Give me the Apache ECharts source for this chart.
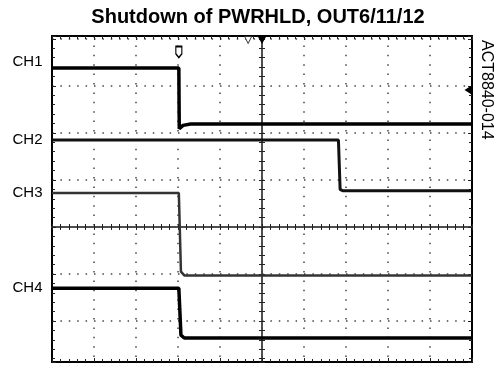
<!DOCTYPE html>
<html>
<head>
<meta charset="utf-8">
<title>Shutdown of PWRHLD, OUT6/11/12</title>
<script src="https://cdn.jsdelivr.net/npm/echarts@6/dist/echarts.min.js"></script>
<style>
html,body{margin:0;padding:0;background:#fff;}
#chart{width:502px;height:365px;}
</style>
</head>
<body>
<div id="chart"></div>
<script>
// scope screen in divisions: time -5..5, level 0 = centre graticule line
var xMin = -5, xMax = 5;
var yMin = -2.87, yMax = 4.06;

// channel traces (time in div, level in div)
var ch1Time = [-5, -1.98, -1.97, -1.88, -1.7, 5];
var ch1Level = [3.38, 3.38, 2.09, 2.16, 2.19, 2.19];
var ch2Time = [-5, 1.82, 1.86, 1.92, 5];
var ch2Level = [1.85, 1.85, 0.80, 0.77, 0.77];
var ch3Time = [-5, -1.98, -1.93, -1.85, 5];
var ch3Level = [0.72, 0.72, -0.95, -1.03, -1.03];
var ch4Time = [-5, -1.98, -1.93, -1.85, 5];
var ch4Level = [-1.30, -1.30, -2.30, -2.36, -2.36];

var fontName = '"Liberation Sans", Arial, sans-serif';
var tickStyle = {color: '#222', width: 1};

// one axis: frame edge or centre line (onZero)
function makeAxis(dim, position, onZero, zeroIndex, showSplit){
	var isX = dim === 'x';
	var axis = {
		type: 'value',
		position: position,
		min: isX ? xMin : yMin,
		max: isX ? xMax : yMax,
		axisLine: {
			show: true,
			onZero: onZero,
			lineStyle: {color: onZero ? '#444' : '#000', width: onZero ? 1.5 : 2}
		},
		axisTick: {show: true, inside: true, length: onZero ? 3 : 4, lineStyle: tickStyle},
		minorTick: {show: true, splitNumber: 5, length: 3, lineStyle: tickStyle},
		axisLabel: {show: false},
		splitLine: {
			show: showSplit,
			lineStyle: {color: '#444', width: 1.5, type: isX ? [1.5, 7.9] : [1.5, 6.9]}
		}
	};
	if(isX){
		axis.interval = 1;
	}else{
		axis.splitNumber = 7;
	}
	if(onZero){
		axis.axisLine.onZeroAxisIndex = zeroIndex;
	}
	return axis;
}

function buildSeries(name, times, levels, width, color, labelDy, marks){
	var data = times.map(function(t, i){
		return [t, levels[i]];
	});
	// channel name written left of the frame at the trace level
	var points = [{
		coord: [xMin, levels[0]],
		symbol: 'circle',
		symbolSize: 1,
		itemStyle: {color: 'rgba(0,0,0,0)'},
		label: {
			show: true, position: 'left', distance: 9, formatter: name,
			color: '#000', fontSize: 15, fontFamily: fontName, offset: [0, labelDy]
		}
	}];
	return {
		name: name,
		type: 'line',
		xAxisIndex: 0,
		yAxisIndex: 0,
		data: data,
		symbol: 'none',
		showSymbol: false,
		silent: true,
		lineStyle: {color: color, width: width},
		markPoint: {
			silent: true,
			animation: false,
			label: {show: false},
			data: points.concat(marks || [])
		}
	};
}

// trigger / position markers on the screen
var ch1Marks = [
	{coord: [0, yMax], symbol: 'triangle', symbolRotate: 180, symbolSize: [9, 8], symbolOffset: [0, 4], itemStyle: {color: '#000'}},
	{coord: [-0.33, yMax], symbol: 'triangle', symbolRotate: 180, symbolSize: [7, 7], symbolOffset: [0, 4], itemStyle: {color: '#fff', borderColor: '#333', borderWidth: 1}},
	{coord: [-1.98, 3.72], symbol: 'path://M0,0L10,0L10,12L5,18L0,12Z', symbolSize: [6, 11], itemStyle: {color: '#fff', borderColor: '#000', borderWidth: 1.5}},
	{coord: [xMax, 2.91], symbol: 'triangle', symbolRotate: 90, symbolSize: [9, 7], symbolOffset: [-4, 0], itemStyle: {color: '#000'}}
];

var myChart = echarts.init(document.getElementById('chart'));
var option = {
	animation: false,
	backgroundColor: '#fff',
	grid: {left: 52, top: 36, width: 420, height: 326, containLabel: false},
	xAxis: [
		makeAxis('x', 'bottom', false, 0, true),
		makeAxis('x', 'top', false, 0, false),
		makeAxis('x', 'bottom', true, 0, false),
		makeAxis('x', 'top', true, 1, false)
	],
	yAxis: [
		makeAxis('y', 'left', false, 0, true),
		makeAxis('y', 'right', false, 0, false),
		makeAxis('y', 'left', true, 0, false),
		makeAxis('y', 'right', true, 1, false)
	],
	graphic: [
		{
			type: 'text', x: 258, y: 17,
			style: {
				text: 'Shutdown of PWRHLD, OUT6/11/12', font: 'bold 20px ' + fontName, fill: '#000',
				align: 'center', verticalAlign: 'middle', textAlign: 'center', textVerticalAlign: 'middle'
			}
		},
		{
			type: 'text', x: 486, y: 40, rotation: -Math.PI / 2,
			style: {
				text: 'ACT8840-014', font: '16px ' + fontName, fill: '#000',
				align: 'left', verticalAlign: 'middle', textAlign: 'left', textVerticalAlign: 'middle'
			}
		}
	],
	series: [
		buildSeries('CH1', ch1Time, ch1Level, 3.5, '#000', -6, ch1Marks),
		buildSeries('CH2', ch2Time, ch2Level, 3, '#111', 0),
		buildSeries('CH3', ch3Time, ch3Level, 2.5, '#333', 0),
		buildSeries('CH4', ch4Time, ch4Level, 3.5, '#000', 0)
	]
};
myChart.setOption(option);
</script>
</body>
</html>
